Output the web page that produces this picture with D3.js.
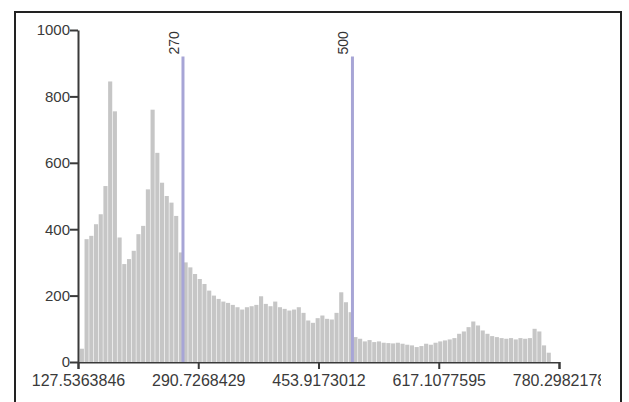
<!DOCTYPE html>
<html>
<head>
<meta charset="utf-8">
<script src="https://cdn.jsdelivr.net/npm/d3@7"></script>
<style>
  body { margin: 0; background: #fff; }
  svg { display: block; font-family: "Liberation Sans", Arial, sans-serif; }
  .axis path, .axis line { stroke: #3a3a3a; stroke-width: 2; }
  .axis text { fill: #3a3a3a; }
</style>
</head>
<body>
<svg id="chart" width="629" height="402"></svg>
<script>
// histogram bins: first bin start, width, counts
const binStart = 130;
const binWidth = 6.4;
const counts = [
  40, 370, 380, 415, 445, 530, 845, 755, 375, 295,
  310, 335, 385, 410, 520, 760, 630, 540, 500, 480,
  440, 330, 300, 285, 265, 250, 235, 215, 200, 190,
  182, 178, 172, 165, 158, 165, 168, 172, 198, 175,
  168, 182, 165, 160, 155, 158, 165, 148, 125, 118,
  132, 140, 130, 128, 148, 210, 180, 150, 75, 70,
  62, 66, 60, 62, 58, 57, 56, 58, 55, 52,
  50, 45, 48, 55, 52, 58, 62, 65, 68, 72,
  85, 92, 105, 122, 110, 95, 85, 78, 75, 72,
  70, 72, 68, 72, 70, 72, 100, 92, 50, 28
];

const xTicks = [127.5363846, 290.7268429, 453.9173012, 617.1077595, 780.2982178];
const xTickLabels = ["127.5363846", "290.7268429", "453.9173012", "617.1077595", "780.2982178"];
const yTicks = [0, 200, 400, 600, 800, 1000];

// marker lines
const markers = [270, 500];
const markerLabels = ["270", "500"];
const markerTop = 920;

const svg = d3.select("#chart");

// frame
svg.append("rect")
    .attr("x", 15).attr("y", 12)
    .attr("width", 606).attr("height", 400)
    .attr("fill", "none")
    .attr("stroke", "#222")
    .attr("stroke-width", 2);

const x = d3.scaleLinear().domain([xTicks[0], xTicks[xTicks.length - 1]]).range([78, 559]);
const y = d3.scaleLinear().domain([0, 1000]).range([362, 30]);

const bins = counts.map((c, i) => ({x0: binStart + i * binWidth, x1: binStart + (i + 1) * binWidth, n: c}));

svg.append("g")
  .selectAll("rect")
  .data(bins)
  .join("rect")
    .attr("x", d => x(d.x0))
    .attr("y", d => y(d.n))
    .attr("width", d => x(d.x1) - x(d.x0) - 0.6)
    .attr("height", d => y(0) - y(d.n))
    .attr("fill", "#c6c6c6");

// marker lines
const mk = svg.append("g");
mk.selectAll("line")
  .data(markers)
  .join("line")
    .attr("x1", d => x(d)).attr("x2", d => x(d))
    .attr("y1", y(markerTop)).attr("y2", y(0))
    .attr("stroke", "#a7a5d6")
    .attr("stroke-width", 3);
mk.selectAll("text")
  .data(markers)
  .join("text")
    .attr("transform", d => `translate(${x(d) - 4},${y(markerTop) - 2}) rotate(-90)`)
    .attr("font-size", 14)
    .attr("fill", "#333")
    .text((d, i) => markerLabels[i]);

// clip for the last x label
svg.append("clipPath").attr("id", "clip")
  .append("rect").attr("x", 0).attr("y", 0).attr("width", 601).attr("height", 402);

const xAxis = d3.axisBottom(x)
    .tickValues(xTicks)
    .tickFormat((d, i) => xTickLabels[i])
    .tickSize(7)
    .tickSizeOuter(7);
svg.append("g")
    .attr("class", "axis")
    .attr("clip-path", "url(#clip)")
    .attr("transform", `translate(0,${y(0)})`)
    .call(xAxis)
    .call(g => g.selectAll("text").attr("font-size", 16).attr("y", 12).attr("dy", "0.75em"));

const yAxis = d3.axisLeft(y)
    .tickValues(yTicks)
    .tickFormat(d3.format("d"))
    .tickSize(8)
    .tickSizeOuter(0);
svg.append("g")
    .attr("class", "axis")
    .attr("transform", `translate(78,0)`)
    .call(yAxis)
    .call(g => g.selectAll("text").attr("font-size", 15).attr("x", -8));
</script>
</body>
</html>
